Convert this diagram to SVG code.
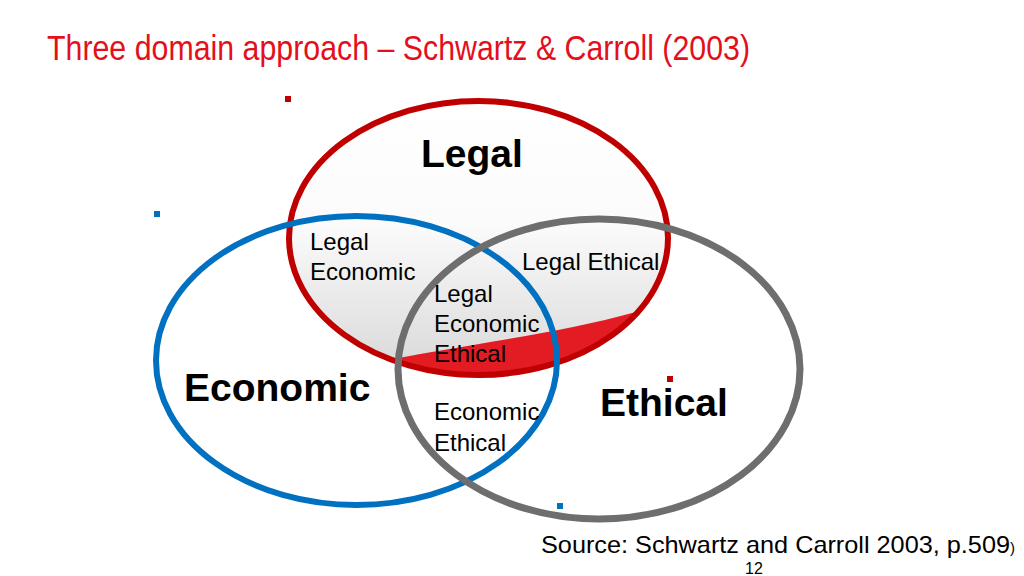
<svg xmlns="http://www.w3.org/2000/svg" width="1024" height="576" viewBox="0 0 1024 576">
<style>
.t{font-family:"Liberation Sans",Arial,sans-serif;fill:#000}
.big{font-size:39px;font-weight:bold}
.lbl{font-size:24px}
.title{font-family:"Liberation Sans",Arial,sans-serif;font-size:35px;fill:#e3101b}
</style>
<defs>
<linearGradient id="lg" x1="0" y1="0" x2="0" y2="1">
<stop offset="0" stop-color="#ffffff"/>
<stop offset="0.45" stop-color="#fbfbfb"/>
<stop offset="1" stop-color="#d8d8d8"/>
</linearGradient>
<clipPath id="legalClip"><ellipse cx="478.5" cy="238" rx="189.5" ry="137"/></clipPath>
</defs>
<rect width="1024" height="576" fill="#fff"/>
<text class="title" x="47" y="60" textLength="703" lengthAdjust="spacingAndGlyphs">Three domain approach – Schwartz &amp; Carroll (2003)</text>

<g id="legal">
<ellipse cx="478.5" cy="238" rx="189.5" ry="137" fill="url(#lg)"/>
<path d="M370 364 C450 346,550 336,636 312 L680 420 L360 420 Z" fill="#e31b23" clip-path="url(#legalClip)"/>
<ellipse cx="478.5" cy="238" rx="189.5" ry="137" fill="none" stroke="#c00000" stroke-width="6"/>
<text class="t big" x="421" y="167">Legal</text>
</g>

<g id="economic">
<ellipse cx="356.5" cy="360.5" rx="200.5" ry="144.5" fill="none" stroke="#0070c0" stroke-width="6"/>
<text class="t big" x="184" y="401">Economic</text>
</g>

<g id="ethical">
<ellipse cx="599" cy="369" rx="201" ry="150" fill="none" stroke="#6e6e6e" stroke-width="7"/>
<text class="t big" x="600" y="416">Ethical</text>
</g>

<g id="legal-economic">
<text class="t lbl" x="310" y="250">Legal</text>
<text class="t lbl" x="310" y="280">Economic</text>
</g>
<g id="legal-ethical">
<text class="t lbl" x="522" y="270">Legal Ethical</text>
</g>
<g id="legal-economic-ethical">
<text class="t lbl" x="434" y="302">Legal</text>
<text class="t lbl" x="434" y="332">Economic</text>
<text class="t lbl" x="434" y="362">Ethical</text>
</g>
<g id="economic-ethical">
<text class="t lbl" x="434" y="420">Economic</text>
<text class="t lbl" x="434" y="451">Ethical</text>
</g>

<g id="connectors"></g>

<rect x="285" y="96" width="6" height="6" fill="#c00000"/>
<rect x="154" y="211" width="6" height="6" fill="#0070c0"/>
<rect x="667" y="376" width="6" height="6" fill="#c00000"/>
<rect x="557" y="503" width="6" height="6" fill="#0070c0"/>

<text class="t" x="541" y="553" font-size="24" textLength="469" lengthAdjust="spacingAndGlyphs">Source: Schwartz and Carroll 2003, p.509</text>
<text class="t" x="1010" y="553" font-size="15">)</text>
<text class="t" x="745" y="574" font-size="16">12</text>
</svg>
